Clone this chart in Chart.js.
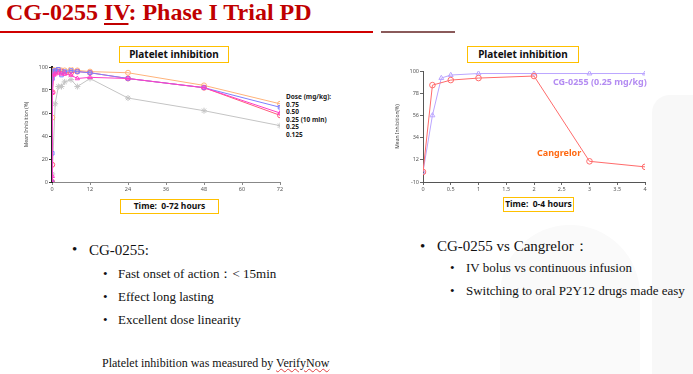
<!DOCTYPE html>
<html><head><meta charset="utf-8">
<script src="https://cdn.jsdelivr.net/npm/chart.js@4/dist/chart.umd.min.js"></script>
<style>
html,body{margin:0;padding:0;}
body{width:693px;height:374px;background:#fff;position:relative;overflow:hidden;font-family:"Liberation Serif","Times New Roman",serif;color:#111;}
.abs{position:absolute;white-space:nowrap;}
.wm{position:absolute;background:#f8f8f8;}
.title{font-size:24px;font-weight:bold;color:#C00000;line-height:24px;}
.box{position:absolute;border:1.5px solid #FFC000;background:#fff;box-sizing:border-box;font-family:"Noto Sans","Open Sans",sans-serif;font-weight:bold;color:#111;text-align:center;}
.lg{position:absolute;font-family:"Noto Sans","Open Sans",sans-serif;font-weight:bold;font-size:6.5px;line-height:7.6px;color:#222;white-space:nowrap;}
.b1{font-size:15px;line-height:15px;}
.b2{font-size:13px;line-height:13px;}
.fn{font-size:12px;line-height:12px;}
</style></head>
<body>
<div class="wm" style="left:652px;top:95px;width:41px;height:279px;border-radius:18px 0 0 0;"></div>
<div class="wm" style="left:500px;top:225px;width:140px;height:149px;border-radius:70px 70px 0 0;background:#fafafa;"></div>

<div class="abs title" style="left:6px;top:0px;">CG-0255 <span style="text-decoration:underline;text-decoration-thickness:1.5px;text-underline-offset:3px;">IV</span>: Phase I Trial PD</div>
<div class="abs" style="left:0;top:31px;width:373px;height:1.5px;background:#D00000;"></div>
<div class="abs" style="left:381px;top:31px;width:74px;height:1.5px;background:#8a5a5a;"></div>

<div class="abs" style="left:20px;top:60px;width:265px;height:135px;"><canvas id="c1" width="265" height="135"></canvas></div>
<div class="abs" style="left:395px;top:62px;width:255px;height:133px;"><canvas id="c2" width="255" height="133"></canvas></div>

<div class="box" style="left:119px;top:46px;width:110px;height:17px;font-size:10px;line-height:14px;">Platelet inhibition</div>
<div class="box" style="left:120px;top:199px;width:99px;height:15px;font-size:8.5px;line-height:12px;">Time:&nbsp; 0-72 hours</div>
<div class="box" style="left:467px;top:46px;width:112px;height:17px;font-size:10px;line-height:14px;">Platelet inhibition</div>
<div class="box" style="left:503px;top:197px;width:71px;height:15px;font-size:8.5px;line-height:12px;">Time:&nbsp; 0-4 hours</div>

<div class="lg" style="left:286px;top:93px;">Dose (mg/kg):<br>0.75<br>0.50<br>0.25 (10 min)<br>0.25<br>0.125</div>

<div class="abs" style="left:553px;top:76px;font-family:'Noto Sans','Open Sans',sans-serif;font-weight:bold;font-size:9px;line-height:12px;color:#B48CF2;">CG-0255 (0.25 mg/kg)</div>
<div class="abs" style="left:537px;top:147px;font-family:'Noto Sans','Open Sans',sans-serif;font-weight:bold;font-size:9px;line-height:12px;color:#FF6A13;">Cangrelor</div>

<div class="abs b1" style="left:72px;top:242px;">•</div>
<div class="abs b1" style="left:89px;top:242.5px;">CG-0255:</div>
<div class="abs b2" style="left:103px;top:267px;">•</div>
<div class="abs b2" style="left:118px;top:267px;">Fast onset of action：&lt; 15min</div>
<div class="abs b2" style="left:103px;top:290px;">•</div>
<div class="abs b2" style="left:118px;top:290px;">Effect long lasting</div>
<div class="abs b2" style="left:103px;top:313px;">•</div>
<div class="abs b2" style="left:118px;top:313px;">Excellent dose linearity</div>
<div class="abs fn" style="left:102px;top:357px;">Platelet inhibition was measured by <span style="text-decoration:underline wavy #e04040;text-decoration-thickness:0.8px;">VerifyNow</span></div>

<div class="abs b1" style="left:420px;top:239px;">•</div>
<div class="abs b1" style="left:437px;top:239px;">CG-0255 vs Cangrelor：</div>
<div class="abs b2" style="left:450px;top:261px;">•</div>
<div class="abs b2" style="left:466px;top:261px;">IV bolus vs continuous infusion</div>
<div class="abs b2" style="left:450px;top:284px;">•</div>
<div class="abs b2" style="left:466px;top:284px;">Switching to oral P2Y12 drugs made easy</div>

<script>
// ---- Left chart data (hours, mean inhibition %) ----
const leftTimes = [0, 0.083, 0.17, 0.5, 1, 2, 3, 4, 6, 8, 12, 24, 48, 72];
const dose075   = [0, 56, 94, 97, 98, 98, 97, 97, 98, 97, 96, 95, 84, 68];
const dose050   = [0, 25, 90, 96, 97, 98, 93, 96, 97, 96, 95, 90, 82, 65];
const dose025_10min = [0, 5, 78, 93, 94, 95, 94, 94, 93, 90, 91, 90, 82, 60];
const dose025   = [0, 15, 78, 95, 96, 96, 96, 95, 95, 96, 95, 90, 82, 58];
const dose0125  = [0, 7, null, null, 68, 83, 83, 87, 89, 83, 90, 73, 62, 49];
const leftYTicks = [0, 20, 40, 60, 80, 100];
const leftXTicks = [0, 12, 24, 36, 48, 60, 72];

// ---- Right chart data (hours) ----
const rightTimes = [0, 0.17, 0.33, 0.5, 1, 2, 3, 4];
const cg0255_025 = [0, 56, 93, 96, 97.5, 97.5, 97.5, 97.5];
const cangrelor  = [0, 86, null, 91, 93, 95, 10.5, 5];
const rightYTicks = [-10, 12, 34, 56, 78, 100];
const rightXTicks = [0, 0.5, 1, 1.5, 2, 2.5, 3, 3.5, 4];

function pts(times, vals){
  const out=[];
  times.forEach((t,i)=>{ if(vals[i]!==null && vals[i]!==undefined) out.push({x:t,y:vals[i]}); });
  return out;
}
function ds(label, times, vals, color, style, r){
  return {label, data:pts(times, vals), borderColor:color, backgroundColor:'rgba(255,255,255,0)',
    pointBorderColor:color, pointBackgroundColor:'rgba(255,255,255,0)', pointStyle:style,
    pointRadius:r||2.5, pointBorderWidth:1, borderWidth:1, tension:0, spanGaps:true};
}
const tickFont = {family:'"Noto Sans", sans-serif', size:5.5};
const plainNum = v => String(v);

new Chart(document.getElementById('c1'), {
  type:'line',
  data:{datasets:[
    ds('0.25 (10 min)', leftTimes, dose025_10min, '#FF3FC8', 'triangle'),
    ds('0.50', leftTimes, dose050, '#7F7FFF', 'rect'),
    ds('0.25', leftTimes, dose025, '#FF5C7A', 'circle'),
    ds('0.75', leftTimes, dose075, '#FFB37A', 'circle'),
    ds('0.125', leftTimes, dose0125, '#C4C4C4', 'star', 3)
  ]},
  options:{
    responsive:false, animation:false,
    layout:{padding:{top:7,right:5,left:0,bottom:0}},
    plugins:{legend:{display:false}, tooltip:{enabled:false}},
    scales:{
      x:{type:'linear', min:0, max:72,
        afterBuildTicks:s=>{s.ticks=leftXTicks.map(v=>({value:v}));},
        ticks:{font:tickFont, color:'#555', padding:1, maxRotation:0, callback:plainNum},
        grid:{drawOnChartArea:false, tickLength:3, color:'#888'},
        border:{color:'#888', width:1},
        afterFit:s=>{s.height=13;}},
      y:{min:0, max:100,
        afterBuildTicks:s=>{s.ticks=leftYTicks.map(v=>({value:v}));},
        ticks:{font:tickFont, color:'#555', padding:1, callback:plainNum},
        grid:{drawOnChartArea:false, tickLength:3, color:'#333'},
        border:{color:'#222', width:2},
        title:{display:true, text:'Mean Inhibition (%)', font:{family:'"Noto Sans", sans-serif', size:5}, color:'#444', padding:{top:4,bottom:0}},
        afterFit:s=>{s.width=32;}}
    }
  }
});

new Chart(document.getElementById('c2'), {
  type:'line',
  data:{datasets:[
    ds('Cangrelor', rightTimes, cangrelor, '#FF6B6B', 'circle', 2.8),
    ds('CG-0255 (0.25 mg/kg)', rightTimes, cg0255_025, '#BBA6FF', 'triangle', 2.8)
  ]},
  options:{
    responsive:false, animation:false,
    layout:{padding:{top:9,right:4,left:0,bottom:0}},
    plugins:{legend:{display:false}, tooltip:{enabled:false}},
    scales:{
      x:{type:'linear', min:0, max:4,
        afterBuildTicks:s=>{s.ticks=rightXTicks.map(v=>({value:v}));},
        ticks:{font:tickFont, color:'#555', padding:1, maxRotation:0, callback:plainNum},
        grid:{drawOnChartArea:false, tickLength:3, color:'#666'},
        border:{color:'#555', width:1},
        afterFit:s=>{s.height=13;}},
      y:{min:-10, max:100,
        afterBuildTicks:s=>{s.ticks=rightYTicks.map(v=>({value:v}));},
        ticks:{font:tickFont, color:'#555', padding:1, callback:plainNum},
        grid:{drawOnChartArea:false, tickLength:3, color:'#666'},
        border:{color:'#555', width:1},
        title:{display:true, text:'Mean Inhibition(%)', font:{family:'"Noto Sans", sans-serif', size:5}, color:'#444', padding:{top:0,bottom:0}},
        afterFit:s=>{s.width=28;}}
    }
  }
});
</script>
</body></html>
